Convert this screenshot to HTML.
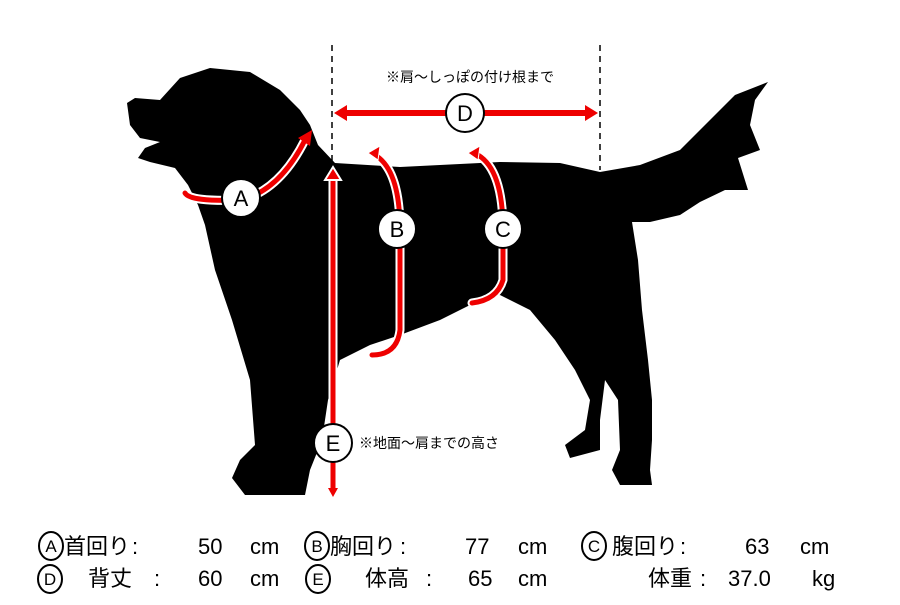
<!DOCTYPE html>
<html><head><meta charset="utf-8"><style>
body{margin:0;background:#fff;width:900px;height:600px;overflow:hidden}
svg text{font-family:"Liberation Sans","Noto Sans CJK JP",sans-serif}
</style></head><body>
<svg width="900" height="600" viewBox="0 0 900 600">
<path fill="#000" d="M127,103 L135,98 160,100 180,78 210,68 250,72 280,90 300,110 310,125 318,145 335,163 L400,167 500,162 560,163 600,172 640,165 680,150 710,120 735,95 768,82 755,100 750,125 760,150 738,158 748,190 725,190 700,202 680,215 650,222 632,222 638,260 642,310 648,360 652,400 652,440 650,470 652,485 620,485 612,470 620,450 618,400 605,380 600,420 600,450 570,458 565,445 585,430 590,400 575,370 555,340 530,310 500,295 470,305 440,320 400,335 370,345 340,360 328,400 322,440 310,470 305,495 245,495 232,478 240,460 255,445 250,380 232,320 215,270 205,225 198,205 188,185 175,168 150,162 138,158 145,148 160,142 140,138 130,125 Z"/>
<g stroke="#000" stroke-width="1.5" stroke-dasharray="6,5"><line x1="332" y1="45" x2="332" y2="165"/><line x1="600" y1="45" x2="600" y2="170"/></g>
<g fill="none" stroke-linecap="round">
<g stroke="#fff" stroke-width="9">
<path d="M185,193 Q190,202 241,200 Q280,190 305,140"/>
<path d="M375,155 Q400,170 400,230 L400,330 Q397,355 372,355"/>
<path d="M478,155 Q503,170 503,230 L503,280 Q497,300 472,303"/>
<line x1="333" y1="180" x2="333" y2="495"/>
</g>
<g stroke="#e00" stroke-width="5">
<path d="M185,193 Q190,202 241,200 Q280,190 305,140"/>
<path d="M375,155 Q400,170 400,230 L400,330 Q397,355 372,355"/>
<path d="M478,155 Q503,170 503,230 L503,280 Q497,300 472,303"/>
<line x1="333" y1="180" x2="333" y2="490"/>
<line x1="345" y1="113" x2="588" y2="113" stroke-width="6"/>
</g></g>
<g fill="#e00">
<polygon points="312,130 298,138 310,146"/>
<polygon points="368,153 380,146 378,160" stroke="#fff" stroke-width="1"/>
<polygon points="468,153 480,146 478,160" stroke="#fff" stroke-width="1"/>
<polygon points="333,167 325,180 341,180" stroke="#fff" stroke-width="2"/>
<polygon points="333,497 328,488 338,488"/>
<polygon points="334,113 347,105 347,121"/>
<polygon points="598,113 585,105 585,121"/>
</g>
<g fill="#fff" stroke="#000" stroke-width="2">
<circle cx="241" cy="198" r="19"/><circle cx="397" cy="229" r="19"/><circle cx="503" cy="229" r="19"/><circle cx="465" cy="113" r="19"/><circle cx="333" cy="443" r="19"/>
</g>
<g font-size="22" text-anchor="middle" fill="#000">
<text x="241" y="206">A</text><text x="397" y="237">B</text><text x="503" y="237">C</text><text x="465" y="121">D</text><text x="333" y="451">E</text>
</g>
<text x="470" y="82" font-size="14" text-anchor="middle">※肩～しっぽの付け根まで</text>
<text x="359" y="448" font-size="14">※地面～肩までの高さ</text>
<g fill="none" stroke="#000" stroke-width="2">
<ellipse cx="51" cy="546" rx="12" ry="14"/><ellipse cx="317" cy="546" rx="12" ry="14"/><ellipse cx="594" cy="546" rx="12" ry="14"/>
<ellipse cx="50" cy="579" rx="12" ry="14"/><ellipse cx="318" cy="579" rx="12" ry="14"/>
</g>
<g font-size="17" text-anchor="middle"><text x="51" y="552">A</text><text x="317" y="552">B</text><text x="594" y="552">C</text><text x="50" y="585">D</text><text x="318" y="585">E</text></g>
<g font-size="22" fill="#000">
<text x="64" y="554">首回り</text><text x="132" y="554">:</text><text x="198" y="554">50</text><text x="250" y="554">cm</text>
<text x="330" y="554">胸回り</text><text x="400" y="554">:</text><text x="465" y="554">77</text><text x="518" y="554">cm</text>
<text x="612" y="554">腹回り</text><text x="680" y="554">:</text><text x="745" y="554">63</text><text x="800" y="554">cm</text>
<text x="88" y="586">背丈</text><text x="154" y="586">:</text><text x="198" y="586">60</text><text x="250" y="586">cm</text>
<text x="365" y="586">体高</text><text x="426" y="586">:</text><text x="468" y="586">65</text><text x="518" y="586">cm</text>
<text x="648" y="586">体重</text><text x="700" y="586">:</text><text x="728" y="586">37.0</text><text x="812" y="586">kg</text>
</g>
</svg>
</body></html>
